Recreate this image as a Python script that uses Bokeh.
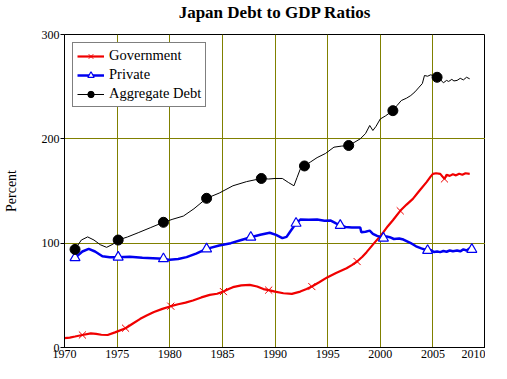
from bokeh.plotting import figure
from bokeh.models import FixedTicker, Range1d, Legend, LegendItem, Title
from bokeh.embed import file_html
from bokeh.resources import INLINE

# ---- data ----
gov_year = [1970.0, 1970.5, 1971.0, 1971.7, 1972.5, 1973.0, 1973.5, 1974.1, 1974.8, 1975.8,
            1976.5, 1977.2, 1977.8, 1978.5, 1979.3, 1980.1, 1980.8, 1981.5, 1982.2, 1983.0,
            1983.8, 1984.5, 1985.1, 1985.6, 1986.0, 1986.8, 1987.6, 1988.3, 1988.9, 1989.4,
            1990.0, 1990.8, 1991.6, 1992.4, 1993.0, 1993.5, 1994.2, 1995.0, 1995.8, 1996.8,
            1997.3, 1997.8, 1998.3, 1998.7, 1999.0, 1999.5, 2000.0, 2000.3, 2000.7, 2001.2,
            2001.9, 2002.5, 2003.1, 2003.7, 2004.4, 2004.8, 2005.0, 2005.3, 2005.7, 2006.1,
            2006.3, 2006.6, 2006.9, 2007.2, 2007.5, 2007.8, 2008.1, 2008.5]
gov_value = [9.0, 9.5, 10.5, 12.0, 13.5, 13.0, 12.2, 12.0, 14.5, 18.5,
             23.0, 27.5, 30.6, 34.0, 37.0, 39.6, 41.5, 43.0, 45.0, 48.0,
             50.4, 51.5, 53.6, 56.0, 57.8, 59.5, 60.0, 58.5, 56.0, 55.0,
             53.5, 52.0, 51.4, 53.6, 56.0, 58.4, 62.5, 67.4, 71.5, 76.0,
             79.0, 82.4, 87.0, 91.4, 95.0, 101.0, 106.7, 110.5, 116.0, 122.0,
             131.0, 137.0, 142.5, 150.0, 158.5, 164.0, 166.4, 167.0, 166.4, 161.6,
             165.5, 164.5, 166.0, 165.0, 166.5, 165.5, 167.0, 166.5]
gov_marker_years = [1971.7, 1975.8, 1980.1, 1985.1, 1989.4, 1993.5, 1997.8, 2001.9, 2006.1]

priv_year = [1971.0, 1971.7, 1972.3, 1972.9, 1973.6, 1974.3, 1975.1, 1976.2, 1977.4, 1978.4,
             1979.4, 1980.0, 1980.8, 1981.6, 1982.5, 1983.5, 1984.7, 1985.8, 1986.8, 1987.7,
             1988.6, 1989.5, 1990.1, 1990.7, 1991.1, 1991.4, 1992.0, 1992.4, 1993.2, 1994.0,
             1994.7, 1995.3, 1995.8, 1996.2, 1996.7, 1997.3, 1997.8, 1998.1, 1998.2, 1998.6,
             1999.0, 1999.3, 1999.7, 2000.0, 2000.3, 2000.6, 2000.9, 2001.3, 2001.8, 2002.2,
             2002.7, 2003.0, 2003.4, 2003.9, 2004.5, 2004.8, 2005.1, 2005.4, 2005.7, 2006.0,
             2006.3, 2006.6, 2006.9, 2007.3, 2007.6, 2007.9, 2008.2, 2008.5, 2008.7]
priv_value = [86.0, 92.0, 94.5, 92.0, 87.5, 86.5, 86.6, 87.0, 86.0, 85.5,
              85.0, 84.0, 84.8, 86.6, 90.0, 94.5, 97.7, 100.0, 103.0, 105.7,
              108.0, 110.0, 108.0, 104.8, 106.0, 110.5, 119.0, 122.6, 122.5, 122.6,
              121.5, 121.7, 119.0, 117.0, 115.5, 115.0, 115.0, 115.0, 110.5, 111.0,
              112.0, 109.0, 107.0, 106.0, 104.8, 106.5, 105.7, 104.0, 104.5, 103.5,
              101.0, 99.5, 97.0, 95.0, 93.0, 93.5, 91.5, 92.0, 91.4, 92.5,
              91.8, 93.0, 92.3, 93.0, 92.2, 94.0, 93.0, 95.0, 94.0]
priv_marker_years = [1971.0, 1975.1, 1979.4, 1983.5, 1987.7, 1992.0, 1996.2, 2000.3, 2004.5, 2008.7]

agg_year = [1971.0, 1971.6, 1972.2, 1972.8, 1973.4, 1974.0, 1974.6, 1975.1, 1976.0, 1977.0,
            1978.2, 1979.4, 1980.3, 1981.3, 1982.3, 1983.5, 1984.7, 1986.0, 1987.3, 1988.7,
            1989.4, 1990.0, 1990.7, 1991.3, 1991.8, 1992.1, 1992.4, 1992.8, 1993.4, 1994.0,
            1994.8, 1995.6, 1996.3, 1997.0, 1997.6, 1998.1, 1998.6, 1999.0, 1999.3, 1999.6,
            2000.0, 2000.5, 2001.2, 2001.6, 2002.0, 2002.5, 2002.9, 2003.3, 2003.7, 2004.0,
            2004.2, 2004.5, 2004.8, 2005.4, 2005.7, 2006.0, 2006.3, 2006.5, 2006.8, 2007.0,
            2007.3, 2007.6, 2007.9, 2008.2, 2008.5]
agg_value = [94.0, 103.0, 106.0, 103.0, 98.5, 96.0, 99.0, 103.0, 106.0, 110.0,
             115.0, 120.0, 123.0, 126.0, 133.0, 143.0, 148.0, 155.0, 159.0, 162.0,
             161.5, 162.0, 162.0, 158.0, 155.0, 163.0, 171.0, 174.0, 178.0, 182.0,
             186.0, 192.0, 193.0, 193.6, 197.0, 200.0, 205.0, 212.8, 208.0, 212.0,
             219.0, 222.0, 227.0, 232.0, 236.7, 239.0, 241.5, 245.0, 249.6, 253.0,
             260.7, 260.0, 261.4, 259.0, 257.0, 253.7, 256.0, 255.0, 257.0, 255.5,
             256.0, 258.0, 256.5, 259.0, 257.5]
agg_marker_years = [1971.0, 1975.1, 1979.4, 1983.5, 1988.7, 1992.8, 1997.0, 2001.2, 2005.4]

x_ticks = [1970, 1975, 1980, 1985, 1990, 1995, 2000, 2005, 2010]
y_ticks = [0, 100, 200, 300]


def pick(xs, ys, marks):
    mx = [x for x in xs if x in marks]
    my = [y for x, y in zip(xs, ys) if x in marks]
    return mx, my


FONT = "Liberation Serif"
GRID = "#808000"

p = figure(frame_width=421, frame_height=313, output_backend="svg", toolbar_location=None,
           x_range=Range1d(1970, 2010), y_range=Range1d(0, 300),
           min_border_left=0, min_border_right=0, min_border_top=0, min_border_bottom=0)

p.title.text = "Japan Debt to GDP Ratios"
p.title.align = "center"
p.title.text_font = FONT
p.title.text_font_size = "17px"
p.title.text_font_style = "bold"
p.title.text_color = "black"
p.title.offset = 0
p.title.standoff = 0

# thin spacer between title and frame
p.add_layout(Title(text=" ", text_font_size="1px"), "above")

p.outline_line_color = "black"
p.outline_line_width = 1
p.background_fill_color = "white"
p.border_fill_color = "white"

p.xgrid.ticker = FixedTicker(ticks=x_ticks)
p.ygrid.ticker = FixedTicker(ticks=y_ticks)
p.xgrid.grid_line_color = GRID
p.ygrid.grid_line_color = GRID
p.xgrid.grid_line_width = 1
p.ygrid.grid_line_width = 1

p.xaxis.ticker = FixedTicker(ticks=x_ticks)
p.yaxis.ticker = FixedTicker(ticks=y_ticks)
for ax in (p.xaxis[0], p.yaxis[0]):
    ax.axis_line_color = "black"
    ax.major_tick_line_color = "black"
    ax.major_tick_in = 0
    ax.minor_tick_line_color = None
    ax.major_label_text_font = FONT
    ax.major_label_text_font_size = "12px"
    ax.major_label_text_color = "black"
p.xaxis.major_tick_out = 0
p.xaxis.major_label_standoff = 2
p.yaxis.major_tick_out = 4
p.yaxis.major_label_standoff = 1
p.yaxis.axis_label = "Percent"
p.yaxis.axis_label_text_font = FONT
p.yaxis.axis_label_text_font_size = "14px"
p.yaxis.axis_label_text_font_style = "normal"
p.yaxis.axis_label_text_color = "black"
p.yaxis.axis_label_standoff = 20

RED = "#F00000"
BLUE = "#0000F0"

g_line = p.line(gov_year, gov_value, line_color=RED, line_width=2.2)
gx, gy = pick(gov_year, gov_value, gov_marker_years)
g_mark = p.scatter(gx, gy, marker="x", size=10, line_color=RED, line_width=1)

b_line = p.line(priv_year, priv_value, line_color=BLUE, line_width=2.5)
bx, by = pick(priv_year, priv_value, priv_marker_years)
b_mark = p.scatter(bx, by, marker="triangle", size=10, line_color=BLUE,
                   fill_color="white", line_width=1.2)

a_line = p.line(agg_year, agg_value, line_color="black", line_width=1)
ax_, ay_ = pick(agg_year, agg_value, agg_marker_years)
a_mark = p.scatter(ax_, ay_, marker="circle", size=10, line_color="black", fill_color="black")

legend = Legend(items=[
    LegendItem(label="Government", renderers=[g_line, g_mark]),
    LegendItem(label="Private", renderers=[b_line, b_mark]),
    LegendItem(label="Aggregate Debt", renderers=[a_line, a_mark]),
], location="top_left")
legend.margin = 8
legend.padding = 4
legend.spacing = 2
legend.glyph_width = 27
legend.glyph_height = 16
legend.label_height = 16
legend.label_standoff = 5
legend.label_text_font = FONT
legend.label_text_font_size = "14.5px"
legend.label_text_color = "black"
legend.border_line_color = "black"
legend.border_line_width = 1
legend.background_fill_color = "white"
legend.background_fill_alpha = 1
p.add_layout(legend, "center")

open("out.html", "w").write(file_html(p, INLINE))
